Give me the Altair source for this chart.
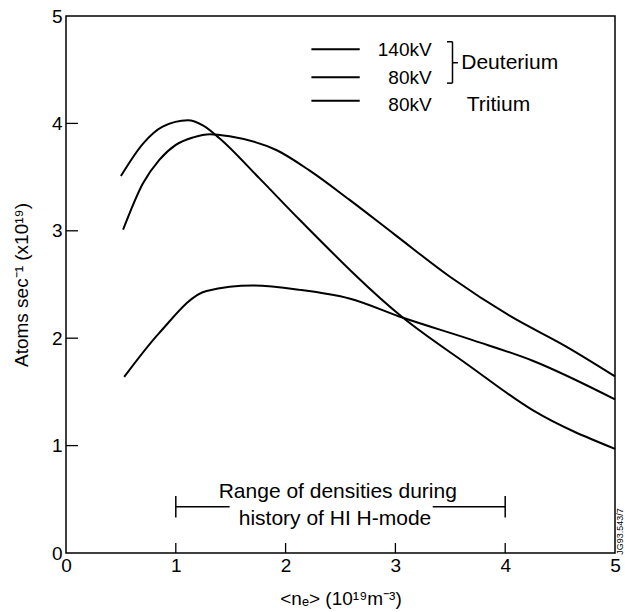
import altair as alt
import pandas as pd

# ---- data ----
a_x = [0.50, 0.70, 0.88, 1.11, 1.25, 1.40, 1.76, 2.13, 3.07, 3.65, 4.25, 5.00]
a_y = [3.51, 3.81, 3.97, 4.03, 3.98, 3.86, 3.49, 3.10, 2.19, 1.76, 1.33, 0.97]

b_x = [0.52, 0.70, 0.85, 1.00, 1.16, 1.31, 1.49, 1.92, 2.22, 2.58, 3.00, 3.50, 4.04, 4.56, 5.00]
b_y = [3.01, 3.44, 3.66, 3.80, 3.87, 3.90, 3.88, 3.75, 3.56, 3.29, 2.96, 2.57, 2.21, 1.92, 1.645]

c_x = [0.53, 0.85, 1.28, 1.70, 2.13, 2.58, 3.07, 3.71, 4.25, 5.00]
c_y = [1.64, 2.05, 2.44, 2.49, 2.45, 2.37, 2.19, 1.98, 1.79, 1.43]

series_names = ["140kV Deuterium", "80kV Deuterium", "80kV Tritium"]

x_ticks = [0, 1, 2, 3, 4, 5]
y_ticks = [0, 1, 2, 3, 4, 5]
inner_ticks = [1, 2, 3, 4]

# legend (in data units)
leg_x1 = [2.235, 2.235, 2.235]
leg_x2 = [2.675, 2.675, 2.675]
leg_y = [4.69, 4.43, 4.21]
leg_kv = ["140kV", "80kV", "80kV"]
leg_kv_x = [3.33, 3.33, 3.33]
leg_kv_y = [4.685, 4.42, 4.17]
grp_text = ["Deuterium", "Tritium"]
grp_x = [3.60, 3.65]
grp_y = [4.56, 4.17]
brk_x = 3.52
brk_x_in = 3.47
brk_x_nib = 3.57
brk_y1, brk_y2, brk_mid = 4.375, 4.76, 4.565

# range annotation
rng_lo, rng_hi = 1.0, 4.0
rng_y = 0.43
rng_gap_lo, rng_gap_hi = 1.49, 3.34
rng_bar_lo, rng_bar_hi = 0.33, 0.53
rng_text = ["Range of densities during", "history of HI H-mode"]
rng_text_x = [2.475, 2.45]
rng_text_y = [0.57, 0.32]

FONT = "Liberation Sans"
W, H = 549, 537

curves = pd.concat([
    pd.DataFrame({"x": a_x, "y": a_y, "s": series_names[0]}),
    pd.DataFrame({"x": b_x, "y": b_y, "s": series_names[1]}),
    pd.DataFrame({"x": c_x, "y": c_y, "s": series_names[2]}),
])

xs = alt.Scale(domain=[0, 5], nice=False, zero=False)
ys = alt.Scale(domain=[0, 5], nice=False, zero=False)

xaxis = alt.Axis(values=x_ticks, format="d", ticks=False, domain=False, grid=False,
                 labelFont=FONT, labelFontSize=19, labelColor="black", labelPadding=3,
                 labelFlush=False,
                 title="<nₑ> (10¹⁹m⁻³)", titleFont=FONT, titleFontSize=19,
                 titleFontWeight="normal", titleColor="black", titlePadding=14)
yaxis = alt.Axis(values=y_ticks, format="d", ticks=False, domain=False, grid=False,
                 labelFont=FONT, labelFontSize=19, labelColor="black", labelPadding=4,
                 labelFlush=False,
                 title="Atoms sec⁻¹ (x10¹⁹)", titleFont=FONT, titleFontSize=19,
                 titleFontWeight="normal", titleColor="black", titlePadding=20)

lines = alt.Chart(curves).mark_line(interpolate="monotone", color="black", strokeWidth=2).encode(
    x=alt.X("x:Q", scale=xs, axis=xaxis),
    y=alt.Y("y:Q", scale=ys, axis=yaxis),
    detail="s:N",
)

# inward ticks
lt = alt.Chart(pd.DataFrame({"v": inner_ticks})).mark_rule(color="black", strokeWidth=1.3).encode(
    y=alt.Y("v:Q", scale=ys), x=alt.value(0), x2=alt.value(12))
bt = alt.Chart(pd.DataFrame({"v": inner_ticks})).mark_rule(color="black", strokeWidth=1.3).encode(
    x=alt.X("v:Q", scale=xs), y=alt.value(H), y2=alt.value(H - 10))

# legend
leg_df = pd.DataFrame({"x1": leg_x1, "x2": leg_x2, "y": leg_y, "t": leg_kv, "tx": leg_kv_x,
                       "ty": leg_kv_y})
leg_lines = alt.Chart(leg_df).mark_rule(color="black", strokeWidth=2).encode(
    x=alt.X("x1:Q", scale=xs), x2="x2:Q", y=alt.Y("y:Q", scale=ys))
leg_text = alt.Chart(leg_df).mark_text(font=FONT, fontSize=19, align="right", baseline="middle",
                                       color="black").encode(
    x=alt.X("tx:Q", scale=xs), y=alt.Y("ty:Q", scale=ys), text="t:N")
grp_df = pd.DataFrame({"x": grp_x, "y": grp_y, "t": grp_text})
grp = alt.Chart(grp_df).mark_text(font=FONT, fontSize=21, align="left", baseline="middle",
                                  color="black").encode(
    x=alt.X("x:Q", scale=xs), y=alt.Y("y:Q", scale=ys), text="t:N")
brk_df = pd.DataFrame({
    "x1": [brk_x, brk_x_in, brk_x_in, brk_x],
    "x2": [brk_x, brk_x, brk_x, brk_x_nib],
    "y1": [brk_y1, brk_y1, brk_y2, brk_mid],
    "y2": [brk_y2, brk_y1, brk_y2, brk_mid],
})
brk = alt.Chart(brk_df).mark_rule(color="black", strokeWidth=1.5).encode(
    x=alt.X("x1:Q", scale=xs), x2="x2:Q", y=alt.Y("y1:Q", scale=ys), y2="y2:Q")

# range annotation
rng_df = pd.DataFrame({
    "x1": [rng_lo, rng_gap_hi, rng_lo, rng_hi],
    "x2": [rng_gap_lo, rng_hi, rng_lo, rng_hi],
    "y1": [rng_y, rng_y, rng_bar_lo, rng_bar_lo],
    "y2": [rng_y, rng_y, rng_bar_hi, rng_bar_hi],
})
rng = alt.Chart(rng_df).mark_rule(color="black", strokeWidth=1.5).encode(
    x=alt.X("x1:Q", scale=xs), x2="x2:Q", y=alt.Y("y1:Q", scale=ys), y2="y2:Q")
rng_t = alt.Chart(pd.DataFrame({"x": rng_text_x, "y": rng_text_y, "t": rng_text})).mark_text(
    font=FONT, fontSize=21, align="center", baseline="middle", color="black").encode(
    x=alt.X("x:Q", scale=xs), y=alt.Y("y:Q", scale=ys), text="t:N")

# figure id
fid = alt.Chart(pd.DataFrame({"x": [5.05], "y": [0.2], "t": ["JG93.543/7"]})).mark_text(
    font=FONT, fontSize=9, angle=270, align="center", baseline="middle", color="black").encode(
    x=alt.X("x:Q", scale=xs), y=alt.Y("y:Q", scale=ys), text="t:N")

chart = alt.layer(lines, lt, bt, leg_lines, leg_text, grp, brk, rng, rng_t, fid).properties(
    width=W, height=H,
    autosize=alt.AutoSizeParams(type="none"),
    padding={"left": 66, "top": 16, "right": 10, "bottom": 59},
    background="white",
).configure_view(stroke="black", strokeWidth=1.5)

chart.save("out.html", embed_options={"renderer": "svg", "actions": False})
